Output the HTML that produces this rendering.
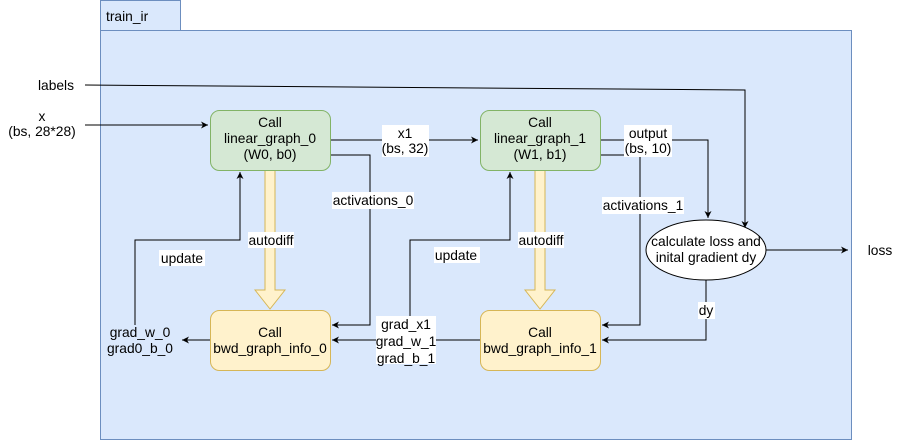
<!DOCTYPE html>
<html><head><style>body{margin:0;background:#fff}svg{display:block}text{font-family:"Liberation Sans",Helvetica,sans-serif;font-size:13.8px;fill:#000}</style></head><body>
<svg width="911" height="441" viewBox="0 0 911 441">
<defs><marker id="a" markerWidth="8" markerHeight="8" refX="7" refY="4" orient="auto" markerUnits="userSpaceOnUse"><path d="M0,0.5 L7,4 L0,7.5 L2,4 Z" fill="#000"/></marker></defs>
<rect x="100.5" y="0.5" width="80" height="30" fill="#dae8fc" stroke="#6c8ebf"/>
<rect x="100.5" y="30.5" width="751" height="409" fill="#dae8fc" stroke="#6c8ebf"/>
<text x="106" y="21">train_ir</text>
<g fill="none" stroke="#000" stroke-width="1">
<path d="M85,85 L745,90 L745,228" marker-end="url(#a)"/>
<path d="M85,125 L208,125" marker-end="url(#a)"/>
<path d="M330,140 L478,140" marker-end="url(#a)"/>
<path d="M330,155 L370,155 L370,325 L332,325" marker-end="url(#a)"/>
<path d="M600,140 L708,140 L708,218" marker-end="url(#a)"/>
<path d="M600,155 L640,155 L640,325 L602,325" marker-end="url(#a)"/>
<path d="M706,280 L706,340 L602,340" marker-end="url(#a)"/>
<path d="M766,250 L848,250" marker-end="url(#a)"/>
<path d="M480,340 L332,340" marker-end="url(#a)"/>
<path d="M410,325 L410,240 L510,240 L510,172" marker-end="url(#a)"/>
<path d="M210,340 L182,340" marker-end="url(#a)"/>
<path d="M135,325 L135,240 L240,240 L240,172" marker-end="url(#a)"/>
</g>
<g fill="#fff2cc" stroke="#d6b656">
<path d="M265,170 L275,170 L275,290 L285,290 L270,309 L255,290 L265,290 Z"/>
<path d="M535,170 L545,170 L545,290 L555,290 L540,309 L525,290 L535,290 Z"/>
</g>
<rect x="210.5" y="110.5" width="120" height="60" rx="9" fill="#d5e8d4" stroke="#82b366"/>
<rect x="480.5" y="110.5" width="120" height="60" rx="9" fill="#d5e8d4" stroke="#82b366"/>
<rect x="210.5" y="310.5" width="120" height="60" rx="9" fill="#fff2cc" stroke="#d6b656"/>
<rect x="480.5" y="310.5" width="120" height="60" rx="9" fill="#fff2cc" stroke="#d6b656"/>
<ellipse cx="706" cy="250" rx="60" ry="30" fill="#fff" stroke="#000"/>
<g fill="#fff">
<rect x="382" y="125" width="47" height="32"/><rect x="332" y="192" width="82" height="17"/>
<rect x="624" y="125" width="48" height="32"/><rect x="602" y="197" width="82" height="17"/>
<rect x="698" y="302" width="17" height="17"/>
<rect x="376" y="316" width="60" height="48"/>
<rect x="248" y="232" width="46" height="16"/><rect x="518" y="232" width="46" height="16"/>
<rect x="159" y="250" width="46" height="16"/><rect x="434" y="247" width="46" height="16"/>
</g>
<g text-anchor="middle">
<text x="270" y="127">Call</text><text x="270" y="143">linear_graph_0</text><text x="270" y="159">(W0, b0)</text>
<text x="540" y="127">Call</text><text x="540" y="143">linear_graph_1</text><text x="540" y="159">(W1, b1)</text>
<text x="270" y="337">Call</text><text x="270" y="353">bwd_graph_info_0</text>
<text x="540" y="337">Call</text><text x="540" y="353">bwd_graph_info_1</text>
<text x="706" y="246">calculate loss and</text><text x="706" y="262">inital gradient dy</text>
<text x="56" y="90">labels</text>
<text x="42" y="121">x</text><text x="42" y="136">(bs, 28*28)</text>
<text x="405" y="138">x1</text><text x="405" y="153">(bs, 32)</text>
<text x="373" y="205">activations_0</text>
<text x="648" y="138">output</text><text x="648" y="153">(bs, 10)</text>
<text x="643" y="210">activations_1</text>
<text x="706" y="315">dy</text>
<text x="880" y="255">loss</text>
<text x="406" y="329">grad_x1</text><text x="406" y="346">grad_w_1</text><text x="406" y="363">grad_b_1</text>
<text x="140" y="337">grad_w_0</text><text x="140" y="353">grad0_b_0</text>
<text x="271" y="245">autodiff</text><text x="541" y="245">autodiff</text>
<text x="182" y="263">update</text><text x="456" y="260">update</text>
</g>
</svg>
</body></html>
